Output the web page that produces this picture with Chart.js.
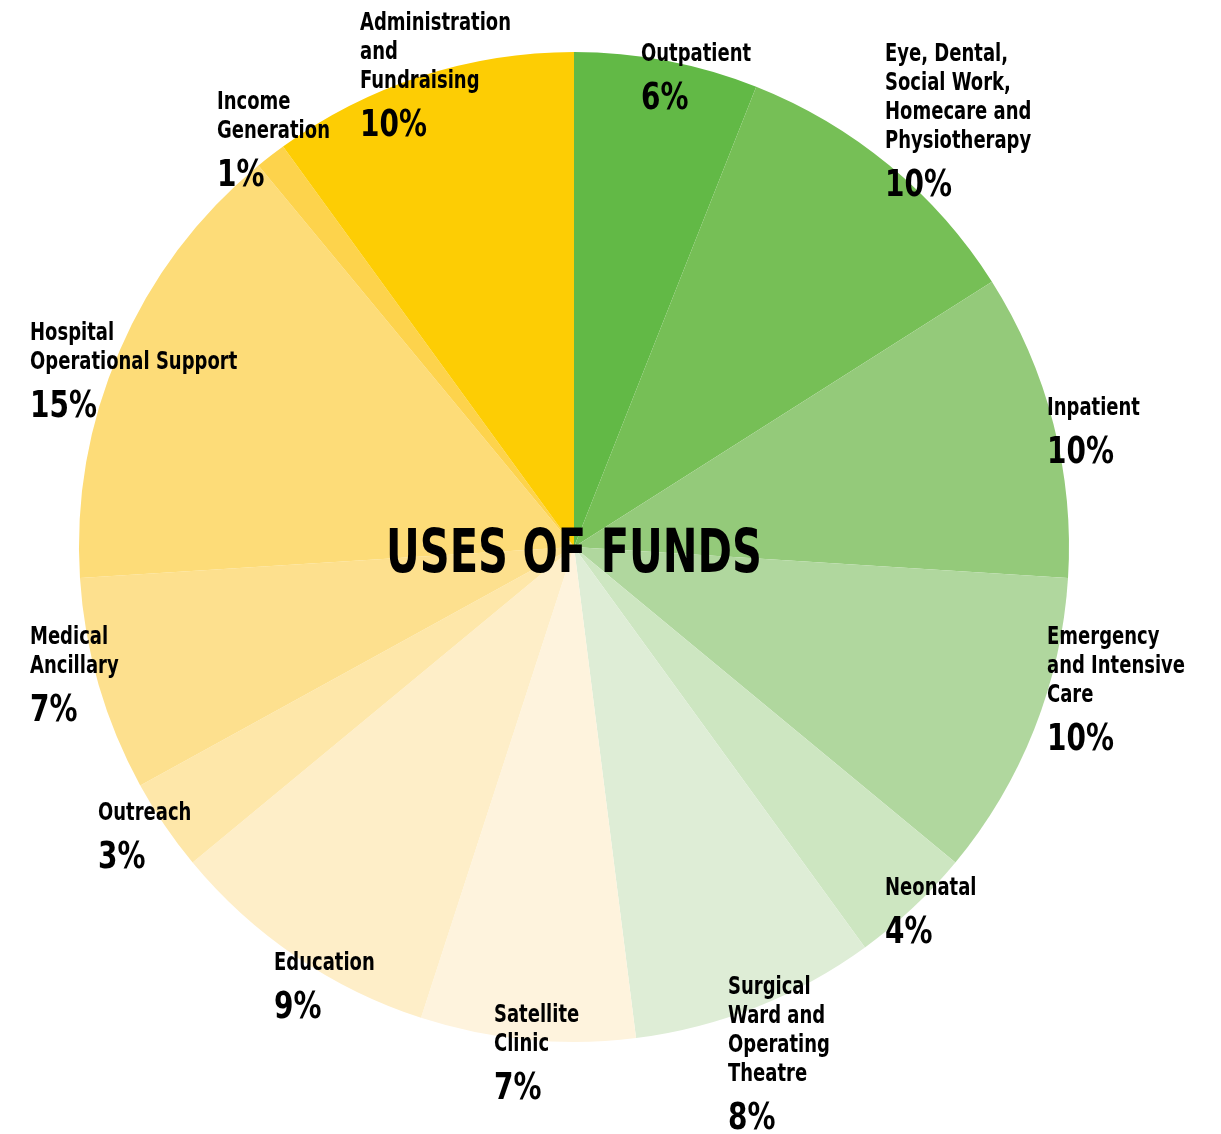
<!DOCTYPE html>
<html>
<head>
<meta charset="utf-8">
<script src="https://cdn.jsdelivr.net/npm/chart.js@4.4.1/dist/chart.umd.min.js"></script>
<style>
    html, body { margin: 0; padding: 0; background: #fff; }
    canvas { display: block; }
</style>
</head>
<body>
<canvas id="funds-chart" width="1221" height="1134"></canvas>
<script>
/* USES OF FUNDS - pie */

const categories = [
    "Outpatient",
    "Eye, Dental, Social Work, Homecare and Physiotherapy",
    "Inpatient",
    "Emergency and Intensive Care",
    "Neonatal",
    "Surgical Ward and Operating Theatre",
    "Satellite Clinic",
    "Education",
    "Outreach",
    "Medical Ancillary",
    "Hospital Operational Support",
    "Income Generation",
    "Administration and Fundraising"
];

const shares = [6, 10, 10, 10, 4, 8, 7, 9, 3, 7, 15, 1, 10];

// wrapped label lines, same order as categories
const labelLines = [
    ["Outpatient"],
    ["Eye, Dental,", "Social Work,", "Homecare and", "Physiotherapy"],
    ["Inpatient"],
    ["Emergency", "and Intensive", "Care"],
    ["Neonatal"],
    ["Surgical", "Ward and", "Operating", "Theatre"],
    ["Satellite", "Clinic"],
    ["Education"],
    ["Outreach"],
    ["Medical", "Ancillary"],
    ["Hospital", "Operational Support"],
    ["Income", "Generation"],
    ["Administration", "and", "Fundraising"]
];

const chartTitle = "USES OF FUNDS";

const sliceColors = [
    "#62b946", "#76bf56", "#94ca7a", "#b0d79e", "#cde6c1", "#deedd6",
    "#fef3dd", "#feeec8", "#fee7a9", "#fde08e", "#fddc78", "#fdd34c", "#fdcd04"
];

// label block position (left x, first line middle y) relative to pie centre
const labelOffsets = [
    [67, -495], [311, -495], [473, -141], [473, 88], [311, 339], [154, 438],
    [-80, 466], [-300, 414], [-476, 264], [-544, 88], [-544, -216], [-357, -447], [-214, -526]
];

const FONT = "'Liberation Sans Narrow', 'DejaVu Sans Condensed', 'Roboto', sans-serif";

// no condensed face around, so squeeze the text sideways
function drawNarrow(ctx, text, x, y, squeeze) {
    ctx.save();
    ctx.translate(x, y);
    ctx.scale(squeeze, 1);
    ctx.fillText(text, 0, 0);
    ctx.restore();
}

const labelPlugin = {
    id: "sliceLabels",
    afterDraw(chart) {
        const ctx = chart.ctx;
        const arcs = chart.getDatasetMeta(0).data;
        const cx = arcs[0].x;
        const cy = arcs[0].y;

        ctx.save();
        ctx.fillStyle = "#000";
        ctx.textAlign = "left";
        ctx.textBaseline = "alphabetic";

        labelLines.forEach((lines, i) => {
            const x = cx + labelOffsets[i][0];
            const y = cy + labelOffsets[i][1];
            ctx.font = `bold 25px ${FONT}`;
            lines.forEach((line, j) => {
                drawNarrow(ctx, line, x, y + j * 29 + 9, 0.8);
            });
            const pctY = y + (lines.length - 1) * 29 + 44;
            ctx.font = `bold 37px ${FONT}`;
            drawNarrow(ctx, `${shares[i]}%`, x, pctY + 13, 0.84);
        });

        // centre title
        ctx.font = `bold 60px ${FONT}`;
        ctx.textAlign = "center";
        drawNarrow(ctx, chartTitle, cx, cy + 25, 0.77);
        ctx.restore();
    }
};

document.addEventListener("DOMContentLoaded", () => {
    const ctx = document.getElementById("funds-chart").getContext("2d");

    new Chart(ctx, {
        type: "pie",
        data: {
            labels: categories,
            datasets: [{
                data: shares,
                backgroundColor: sliceColors,
                borderWidth: 0,
                hoverOffset: 0
            }]
        },
        options: {
            responsive: false,
            animation: false,
            layout: {
                padding: { left: 79, right: 152, top: 52, bottom: 92 }
            },
            plugins: {
                legend: { display: false },
                tooltip: { enabled: false }
            }
        },
        plugins: [labelPlugin]
    });
});
</script>
</body>
</html>
